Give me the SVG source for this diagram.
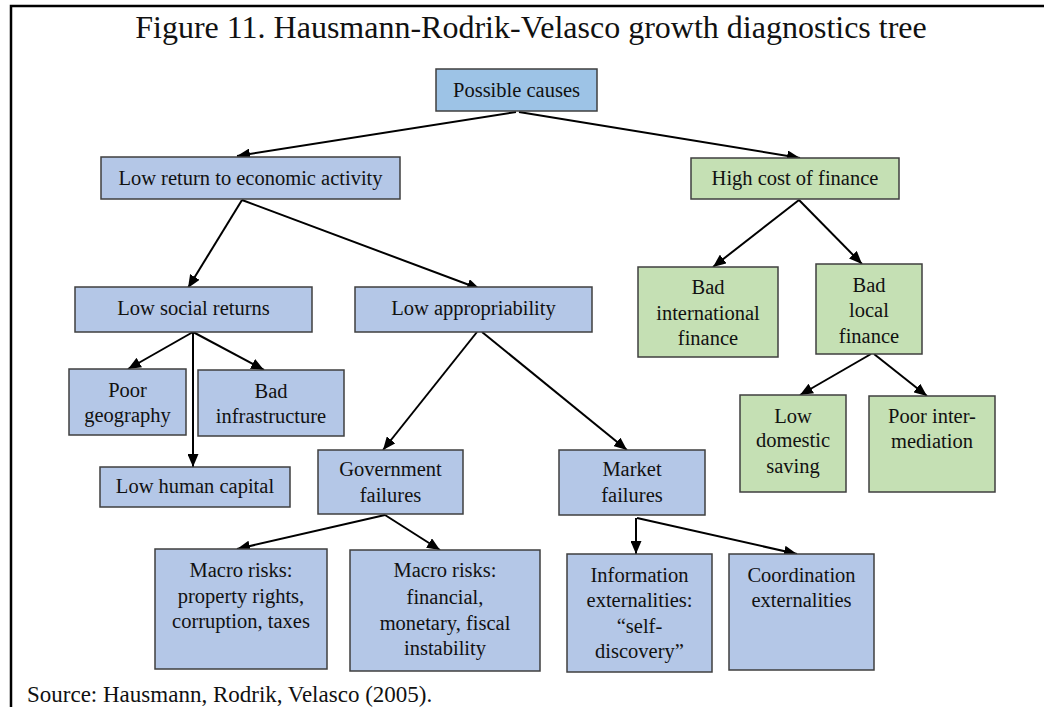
<svg xmlns="http://www.w3.org/2000/svg" width="1044" height="707" viewBox="0 0 1044 707">
<defs>
<style>
.box{stroke:#3f3f3f;stroke-width:1.5}
.blue{fill:#B4C7E7}
.root{fill:#9DC3E6}
.green{fill:#C5E0B4}
text{font-family:"Liberation Serif","Times New Roman",serif;fill:#111}
.lbl{font-size:20.5px;text-anchor:middle}
.title{font-size:32px;text-anchor:middle}
.src{font-size:23px}
.conn line{stroke:#000;stroke-width:2;marker-end:url(#arr)}
</style>
<marker id="arr" markerUnits="userSpaceOnUse" markerWidth="13" markerHeight="11" refX="13" refY="5.5" orient="auto">
<path d="M0,0 L13,5.5 L0,11 z" fill="#000"/>
</marker>
</defs>
<rect width="1044" height="707" fill="#fff"/>
<path d="M11,707 L11,6 L1044,6" fill="none" stroke="#000" stroke-width="2.5"/>
<text class="title" x="531" y="38">Figure 11. Hausmann-Rodrik-Velasco growth diagnostics tree</text>
<text class="src" x="27" y="702">Source: Hausmann, Rodrik, Velasco (2005).</text>

<g id="connectors" class="conn">
<line x1="516" y1="112" x2="237" y2="156"/>
<line x1="519" y1="112" x2="800" y2="158"/>
<line x1="242" y1="200" x2="188" y2="288"/>
<line x1="242" y1="200" x2="480" y2="289"/>
<line x1="193" y1="332" x2="128" y2="369"/>
<line x1="193" y1="332" x2="264" y2="370"/>
<line x1="193" y1="332" x2="193" y2="467"/>
<line x1="477" y1="332" x2="383" y2="450"/>
<line x1="482" y1="332" x2="627" y2="450"/>
<line x1="385" y1="515" x2="237" y2="549"/>
<line x1="385" y1="515" x2="440" y2="550"/>
<line x1="636" y1="518" x2="636" y2="554"/>
<line x1="637" y1="518" x2="797" y2="554"/>
<line x1="799" y1="200" x2="713" y2="267"/>
<line x1="799" y1="200" x2="862" y2="264"/>
<line x1="871" y1="354" x2="800" y2="395"/>
<line x1="874" y1="354" x2="927" y2="396"/>
</g>

<g id="possible-causes"><rect class="box root" x="436" y="69" width="161" height="42"/><text class="lbl" x="516.5" y="97">Possible causes</text></g>
<g id="low-return"><rect class="box blue" x="101" y="157" width="299" height="42"/><text class="lbl" x="250.5" y="185">Low return to economic activity</text></g>
<g id="high-cost"><rect class="box green" x="691" y="158" width="208" height="41"/><text class="lbl" x="795" y="185">High cost of finance</text></g>
<g id="low-social"><rect class="box blue" x="75" y="287" width="237" height="45"/><text class="lbl" x="193.5" y="315">Low social returns</text></g>
<g id="low-approp"><rect class="box blue" x="355" y="287" width="237" height="45"/><text class="lbl" x="473.5" y="315">Low appropriability</text></g>
<g id="poor-geo"><rect class="box blue" x="69" y="369" width="117" height="66"/><text class="lbl" x="127.5" y="397">Poor</text><text class="lbl" x="127.5" y="422">geography</text></g>
<g id="bad-infra"><rect class="box blue" x="198" y="370" width="146" height="66"/><text class="lbl" x="271" y="398">Bad</text><text class="lbl" x="271" y="423">infrastructure</text></g>
<g id="low-human"><rect class="box blue" x="100" y="467" width="190" height="40"/><text class="lbl" x="195" y="493">Low human capital</text></g>
<g id="gov-fail"><rect class="box blue" x="318" y="450" width="145" height="64"/><text class="lbl" x="390.5" y="476">Government</text><text class="lbl" x="390.5" y="502">failures</text></g>
<g id="market-fail"><rect class="box blue" x="559" y="450" width="146" height="65"/><text class="lbl" x="632" y="476">Market</text><text class="lbl" x="632" y="502">failures</text></g>
<g id="macro1"><rect class="box blue" x="155" y="549" width="172" height="120"/><text class="lbl" x="241" y="577">Macro risks:</text><text class="lbl" x="241" y="603">property rights,</text><text class="lbl" x="241" y="628">corruption, taxes</text></g>
<g id="macro2"><rect class="box blue" x="350" y="550" width="190" height="121"/><text class="lbl" x="445" y="577">Macro risks:</text><text class="lbl" x="445" y="604">financial,</text><text class="lbl" x="445" y="630">monetary, fiscal</text><text class="lbl" x="445" y="655">instability</text></g>
<g id="info-ext"><rect class="box blue" x="567" y="554" width="145" height="118"/><text class="lbl" x="639.5" y="582">Information</text><text class="lbl" x="639.5" y="607">externalities:</text><text class="lbl" x="639.5" y="633">“self-</text><text class="lbl" x="639.5" y="658">discovery”</text></g>
<g id="coord-ext"><rect class="box blue" x="729" y="554" width="145" height="116"/><text class="lbl" x="801.5" y="582">Coordination</text><text class="lbl" x="801.5" y="607">externalities</text></g>
<g id="bad-intl"><rect class="box green" x="638" y="267" width="140" height="90"/><text class="lbl" x="708" y="294">Bad</text><text class="lbl" x="708" y="320">international</text><text class="lbl" x="708" y="345">finance</text></g>
<g id="bad-local"><rect class="box green" x="816" y="264" width="106" height="90"/><text class="lbl" x="869" y="292">Bad</text><text class="lbl" x="869" y="317">local</text><text class="lbl" x="869" y="343">finance</text></g>
<g id="low-dom"><rect class="box green" x="740" y="395" width="106" height="97"/><text class="lbl" x="793" y="423">Low</text><text class="lbl" x="793" y="447">domestic</text><text class="lbl" x="793" y="473">saving</text></g>
<g id="poor-inter"><rect class="box green" x="869" y="396" width="126" height="96"/><text class="lbl" x="932" y="423">Poor inter-</text><text class="lbl" x="932" y="448">mediation</text></g>
</svg>
